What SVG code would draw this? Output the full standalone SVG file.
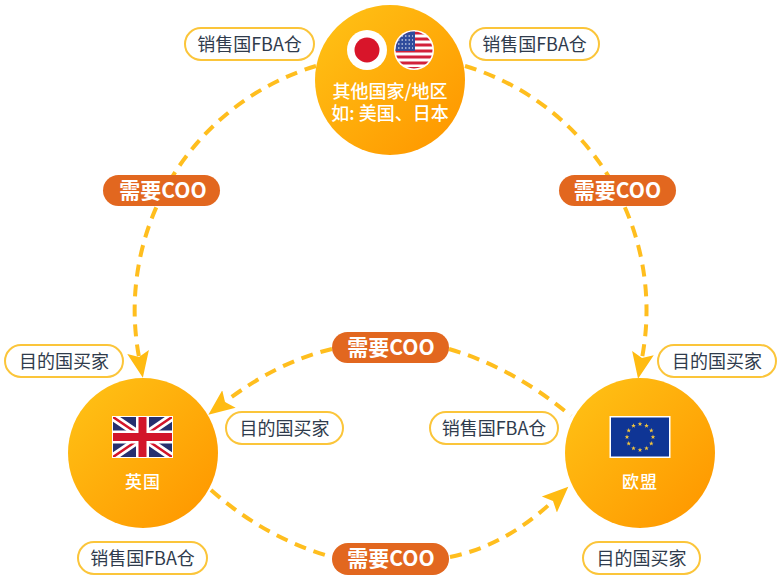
<svg xmlns="http://www.w3.org/2000/svg" width="780" height="580" viewBox="0 0 780 580">
<style>
text{font-family:"Noto Sans CJK SC","Noto Sans",sans-serif;text-anchor:middle}
.pill{fill:#fff;stroke:#FBC53A;stroke-width:2}
.lab{font-size:18px;fill:#2F3B4C}
.coo{fill:#E2671F}
.coot{font-size:21px;font-weight:700;fill:#fff}
.w{fill:#fff;font-weight:500}
.dash{fill:none;stroke:#FFBE1E;stroke-width:4;stroke-dasharray:12 8}
</style>
<defs>
<linearGradient id="g" x1="0" y1="0" x2="1" y2="1"><stop offset="0.1" stop-color="#FFBF14"/><stop offset="0.9" stop-color="#FF9900"/></linearGradient>
<marker id="ah" markerUnits="userSpaceOnUse" markerWidth="28" markerHeight="24" refX="5" refY="12" orient="auto"><path d="M0 1L26 12L0 23L5 12Z" fill="#FFBB12"/></marker>
<clipPath id="usc"><circle cx="414" cy="50" r="18.5"/></clipPath>
<clipPath id="ukc"><rect x="113" y="417" width="59" height="40"/></clipPath>
<polygon id="st" points="0,-2.4 .6,-.8 2.3,-.8 1,.3 1.4,2 0,1 -1.4,2 -1,.3 -2.3,-.8 -.6,-.8" fill="#F2C53D"/>
</defs>
<rect width="780" height="580" fill="#fff"/>
<g id="connectors">
<path class="dash" d="M316 66A255 255 0 0 0 139 357" marker-end="url(#ah)"/>
<path class="dash" d="M465 66A255 255 0 0 1 642 358" marker-end="url(#ah)"/>
<path class="dash" d="M332 349Q277 362 225 402" marker-end="url(#ah)"/>
<path class="dash" d="M449 349Q514 368 571 416"/>
<path class="dash" d="M211 490Q265 538 332 557"/>
<path class="dash" d="M450 557Q505 546 553 501" marker-end="url(#ah)"/>
</g>
<g id="node-other">
<circle cx="390" cy="80" r="75" fill="url(#g)"/>
<circle cx="367" cy="50" r="20" fill="#fff"/><circle cx="367" cy="50" r="12.5" fill="#D8152A"/>
<circle cx="414" cy="50" r="20" fill="#fff"/>
<g clip-path="url(#usc)">
<rect x="395" y="31" width="38" height="38" fill="#fff"/>
<path d="M395 33h38M395 39h38M395 45h38M395 51h38M395 57h38M395 63h38M395 68.500h38" stroke="#D2213A" stroke-width="3"/>
<rect x="395" y="31" width="20" height="20" fill="#2F4C9C"/>
<path d="M398 36h15M398 40h15M398 44h15M398 48h15" stroke="#fff" stroke-width="1.200" stroke-dasharray="1.500 2"/>
</g>
<text class="w" font-size="18"><tspan x="390" y="98">其他国家/地区</tspan><tspan x="390" y="120">如: 美国、日本</tspan></text>
</g>
<g id="node-uk">
<circle cx="143" cy="453" r="75" fill="url(#g)"/>
<rect x="112" y="416" width="61" height="42" fill="#fff"/>
<g clip-path="url(#ukc)">
<rect x="113" y="417" width="59" height="40" fill="#26306F"/>
<path d="M113 417L172 457M172 417L113 457" stroke="#fff" stroke-width="8"/>
<path d="M113 417L172 457M172 417L113 457" stroke="#D2152A" stroke-width="2.500"/>
<path d="M142.500 417V457M113 437H172" stroke="#fff" stroke-width="13"/>
<path d="M142.500 417V457M113 437H172" stroke="#D2152A" stroke-width="8"/>
</g>
<text class="w" x="143" y="488" font-size="17" letter-spacing="1">英国</text>
</g>
<g id="node-eu">
<circle cx="640" cy="453" r="75" fill="url(#g)"/>
<rect x="609.500" y="416" width="61" height="42" fill="#fff"/>
<rect x="611" y="417.500" width="58" height="39" fill="#0F3595"/>
<use href="#st" x="640" y="424"/><use href="#st" x="646.500" y="425.700"/><use href="#st" x="651.300" y="430.500"/><use href="#st" x="653" y="437"/><use href="#st" x="651.300" y="443.500"/><use href="#st" x="646.500" y="448.300"/><use href="#st" x="640" y="450"/><use href="#st" x="633.500" y="448.300"/><use href="#st" x="628.700" y="443.500"/><use href="#st" x="627" y="437"/><use href="#st" x="628.700" y="430.500"/><use href="#st" x="633.500" y="425.700"/>
<text class="w" x="640" y="488" font-size="17" letter-spacing="1">欧盟</text>
</g>
<g id="label-sell-1"><rect class="pill" x="185" y="28" width="129" height="32" rx="16"/><text class="lab" x="249.500" y="51">销售国FBA仓</text></g>
<g id="label-sell-2"><rect class="pill" x="470" y="28" width="129" height="32" rx="16"/><text class="lab" x="534.500" y="51">销售国FBA仓</text></g>
<g id="label-sell-3"><rect class="pill" x="430" y="412" width="128" height="32" rx="16"/><text class="lab" x="494" y="435">销售国FBA仓</text></g>
<g id="label-sell-4"><rect class="pill" x="78" y="542" width="129" height="32" rx="16"/><text class="lab" x="142.500" y="565">销售国FBA仓</text></g>
<g id="label-buy-1"><rect class="pill" x="5" y="345" width="118" height="32" rx="16"/><text class="lab" x="64" y="368">目的国买家</text></g>
<g id="label-buy-2"><rect class="pill" x="658" y="345" width="118" height="32" rx="16"/><text class="lab" x="717" y="368">目的国买家</text></g>
<g id="label-buy-3"><rect class="pill" x="226" y="412" width="117" height="32" rx="16"/><text class="lab" x="284.500" y="435">目的国买家</text></g>
<g id="label-buy-4"><rect class="pill" x="583" y="542" width="117" height="32" rx="16"/><text class="lab" x="641.500" y="565">目的国买家</text></g>
<g id="coo-1"><rect class="coo" x="103" y="175" width="117" height="31" rx="15.500"/><text class="coot" x="163" y="198">需要COO</text></g>
<g id="coo-2"><rect class="coo" x="559" y="175" width="117" height="31" rx="15.500"/><text class="coot" x="617.500" y="198">需要COO</text></g>
<g id="coo-3"><rect class="coo" x="332" y="332" width="117" height="31" rx="15.500"/><text class="coot" x="391" y="355">需要COO</text></g>
<g id="coo-4"><rect class="coo" x="332" y="543" width="117" height="32" rx="16"/><text class="coot" x="391" y="566">需要COO</text></g>
</svg>
